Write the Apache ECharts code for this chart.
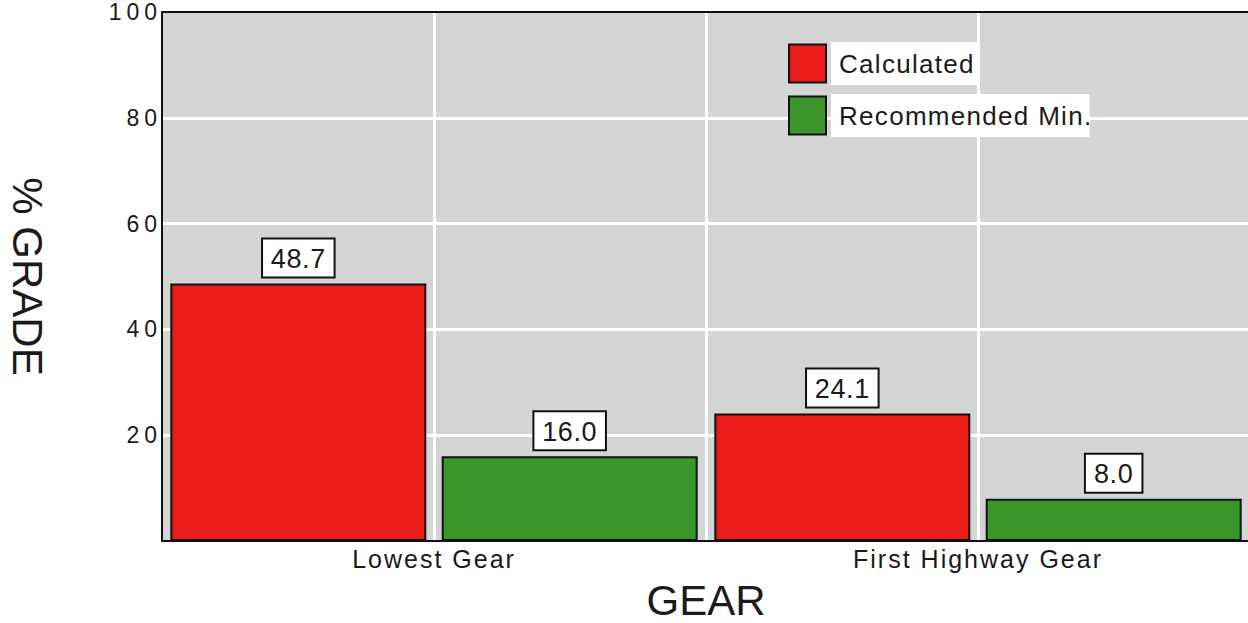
<!DOCTYPE html>
<html><head><meta charset="utf-8">
<script src="https://cdn.jsdelivr.net/npm/echarts@6/dist/echarts.min.js"></script>
<style>
html,body{margin:0;padding:0;background:#fff;}
#c{width:1248px;height:623px;}
</style></head><body><div id="c"></div>
<script>
const categories = ['Lowest Gear', 'First Highway Gear'];
const seriesNames = ['Calculated', 'Recommended Min.'];
const calculated = [48.7, 24.1];
const recommendedMin = [16.0, 8.0];
const yTicks = [0, 20, 40, 60, 80, 100];

const TXT = '#1a1a1a';
const FONT = '"Liberation Sans", Arial, sans-serif';

const labelStyle = {
  show: true, position: 'top', distance: 7,
  fontFamily: FONT, fontSize: 27, lineHeight: 27, color: TXT,
  backgroundColor: '#fff', borderColor: '#111', borderWidth: 2,
  padding: [6, 9, 4, 9],
  formatter: p => Number(p.value).toFixed(1)
};

const chart = echarts.init(document.getElementById('c'), null, {renderer: 'svg'});
chart.setOption({
  animation: false,
  backgroundColor: '#fff',
  textStyle: {fontFamily: FONT},
  grid: {left: 162, top: 12, width: 1088, height: 529, show: true, backgroundColor: '#d4d6d6',
         borderWidth: 0, containLabel: false, outerBoundsMode: 'none'},
  legend: {
    orient: 'vertical', left: 783, top: 37, itemWidth: 37, itemHeight: 38, itemGap: 9,
    icon: 'rect',
    data: seriesNames,
    textStyle: {fontFamily: FONT, fontSize: 26, lineHeight: 29, color: TXT, backgroundColor: '#fff', padding: [8, 18, 6, 8]}
  },
  xAxis: [{
    type: 'category', data: categories, position: 'bottom',
    axisLine: {show: true, lineStyle: {color: '#111', width: 2}},
    axisTick: {show: false},
    splitLine: {show: false},
    axisLabel: {fontFamily: FONT, fontSize: 25, color: TXT, margin: 5},
    name: 'GEAR', nameLocation: 'middle', nameGap: 38,
    nameTextStyle: {fontFamily: FONT, fontSize: 42, color: TXT}
  }, {
    type: 'value', position: 'top', min: 0, max: 4, interval: 1,
    axisLine: {show: true, onZero: false, lineStyle: {color: '#111', width: 2}},
    axisTick: {show: false}, axisLabel: {show: false},
    splitLine: {show: true, showMinLine: false, showMaxLine: false, lineStyle: {color: '#fff', width: 3}}
  }],
  yAxis: {
    type: 'value', min: yTicks[0], max: yTicks[yTicks.length - 1], interval: 20,
    axisLine: {show: true, lineStyle: {color: '#111', width: 2}},
    axisTick: {show: false},
    splitLine: {show: true, showMinLine: false, showMaxLine: false, lineStyle: {color: '#fff', width: 3}},
    axisLabel: {fontFamily: FONT, fontSize: 23, color: TXT, margin: 0, formatter: v => v === 0 ? '' : String(v)},
    name: '% GRADE', nameLocation: 'middle', nameRotate: -90, nameGap: 114,
    nameTextStyle: {fontFamily: FONT, fontSize: 42, color: TXT}
  },
  series: [{
    name: seriesNames[0], type: 'bar', data: calculated, xAxisIndex: 0,
    barWidth: 256, barGap: '6%',
    itemStyle: {color: '#ec1b1b', borderColor: '#111', borderWidth: 2},
    label: labelStyle
  }, {
    name: seriesNames[1], type: 'bar', data: recommendedMin, xAxisIndex: 0,
    barWidth: 256, barGap: '6%',
    itemStyle: {color: '#3a962a', borderColor: '#111', borderWidth: 2},
    label: labelStyle
  }]
});

// letter tracking by text size (ticks, categories, legend, labels)
const spacingBySize = {23: 5, 25: 2, 26: 1.3, 27: 0.6};
function track() {
  document.querySelectorAll('#c svg text').forEach(t => {
    const fs = Math.round(parseFloat(getComputedStyle(t).fontSize));
    const s = spacingBySize[fs];
    t.style.letterSpacing = s ? s + 'px' : '0px';
  });
}
track();
chart.on('finished', track);
</script></body></html>
